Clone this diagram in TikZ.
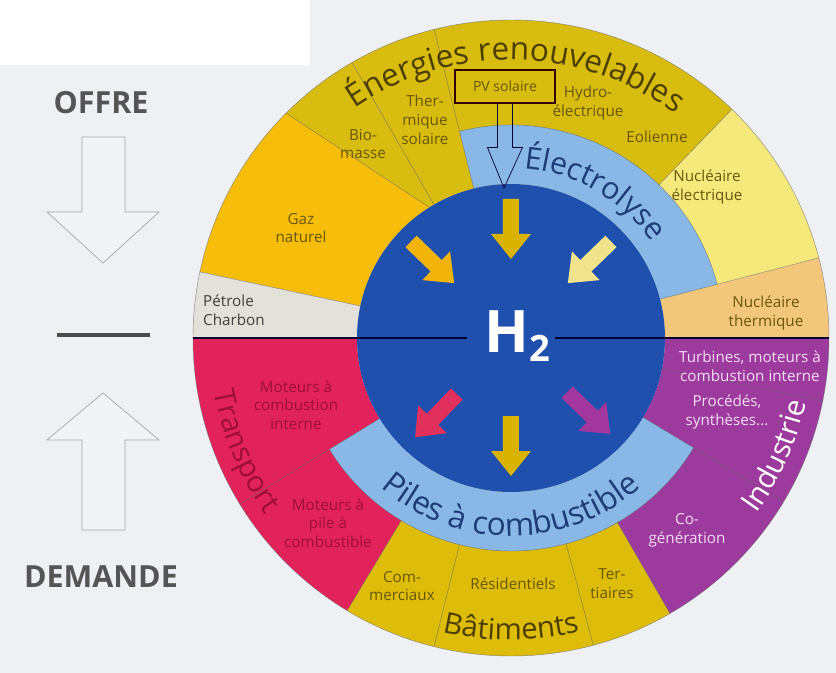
\documentclass[tikz,border=0pt]{standalone}
\usepackage{fontspec}
\setmainfont{Open Sans}
\usepackage{tikz}
\usetikzlibrary{decorations.text,calc,positioning}

\definecolor{bgc}{HTML}{EEF0F4}
\definecolor{ren}{HTML}{D9BC10}
\definecolor{gaz}{HTML}{F6BD0A}
\definecolor{pet}{HTML}{E4E0DA}
\definecolor{nel}{HTML}{F6E97C}
\definecolor{nth}{HTML}{F2C77C}
\definecolor{trp}{HTML}{E2225A}
\definecolor{bat}{HTML}{DEBC0A}
\definecolor{ind}{HTML}{9C3A9E}
\definecolor{lblue}{HTML}{8AB8E6}
\definecolor{hblue}{HTML}{2050AE}
\definecolor{agold}{HTML}{D9B300}
\definecolor{aorange}{HTML}{F3B40A}
\definecolor{ayellow}{HTML}{F1E28C}
\definecolor{ared}{HTML}{E2305C}
\definecolor{apurple}{HTML}{A2379E}
\definecolor{olive}{HTML}{6A560A}
\definecolor{darkolive}{HTML}{4E3E00}
\definecolor{navytext}{HTML}{1E3C78}
\definecolor{wine}{HTML}{9E0E3A}
\definecolor{lilac}{HTML}{F4DCF4}
\definecolor{greytext}{HTML}{555555}

% one piece of the ring: colour, from angle, to angle, inner r, outer r
\newcommand{\ringpart}[5]{%
  \fill[#1] (#2:#5) arc[start angle=#2, end angle=#3, radius=#5]
    -- (#3:#4) arc[start angle=#3, end angle=#2, radius=#4] -- cycle;}

\tikzset{
  seg/.style={draw=black!60, line width=0.4pt, opacity=0.7},
  lab/.style={font=\fontsize{13}{16}\selectfont, align=center, inner sep=0pt},
  renlab/.style={lab, text=olive},
  trplab/.style={lab, text=wine},
  indlab/.style={lab, text=lilac},
  divider/.style={draw=black!80!blue, line width=2.4pt},
  openarrow/.style={draw=black!35, line width=0.6pt, fill=white, fill opacity=0.25},
  sidelab/.style={font=\fontsize{26}{26}\selectfont\bfseries, text=greytext, inner sep=0pt},
  pvbox/.style={draw=black!80!red, line width=0.9pt, minimum width=3cm, minimum height=0.99cm,
    inner sep=0pt, font=\fontsize{12}{14}\selectfont, text=olive},
  pvarrow/.style={draw=black!80!blue, line width=0.6pt}
}

\begin{document}
\begin{tikzpicture}[x=0.03cm, y=0.03cm]
  \useasboundingbox[fill=bgc] (-511,-335) rectangle (325,338);
  \fill[white] (-511,273) rectangle (-201,338);

  % outer ring
  \ringpart{nth}{0}{14.6}{154}{318}
  \ringpart{nel}{14.6}{46}{154}{318}
  \ringpart{ren}{46}{135}{154}{318}
  \fill[gaz] (135:318) arc[start angle=135, end angle=168, radius=318]
    -- (168:154) arc[start angle=168, end angle=122, radius=154] -- cycle;
  \ringpart{pet}{168}{180}{154}{318}
  \ringpart{trp}{180}{239}{154}{318}
  \ringpart{bat}{239}{300}{154}{318}
  \ringpart{ind}{300}{360}{154}{318}
  \ringpart{lblue}{14.6}{104}{154}{213}
  \ringpart{lblue}{211.5}{329}{154}{213}

  % borders
  \foreach \a/\ri in {14.6/154, 46/213, 104/154, 120/154, 168/154, 211.5/154,
                      239/213, 256/213, 285/213, 300/213, 329/154, 348.6/154}
    \draw[seg] (\a:\ri) -- (\a:318);
  \draw[seg] (122:154) -- (135:318);
  \draw[seg] (14.6:213) arc[start angle=14.6, end angle=104, radius=213];
  \draw[seg] (211.5:213) arc[start angle=211.5, end angle=329, radius=213];
  \draw[seg] (0,0) circle (318);
  \fill[hblue] (0,0) circle (154);

  \draw[divider] (180:318) -- (-44,0);
  \draw[divider] (44,0) -- (0:318);

  % arrows in and out of H2
  \foreach \a/\c in {90/agold, 136/aorange, 44/ayellow}
    \fill[\c, shift={(\a:139)}, rotate=\a+180]
      (0,-8) -- (35,-8) -- (35,-20) -- (60,0) -- (35,20) -- (35,8) -- (0,8) -- cycle;
  \foreach \a/\c in {270/agold, 226/ared, 316/apurple}
    \fill[\c, shift={(\a:78)}, rotate=\a]
      (0,-8) -- (35,-8) -- (35,-20) -- (60,0) -- (35,20) -- (35,8) -- (0,8) -- cycle;

  \node[font=\fontsize{50}{50}\selectfont\bfseries, text=white, inner sep=0pt] (htwo) at (6,2)
    {H\raisebox{-0.3ex}{\fontsize{31}{31}\selectfont 2}};

  % texts on the arcs
  \path[decorate, decoration={text along path, text align=center, text color=darkolive,
    text={|\fontsize{27}{27}\selectfont|Énergies renouvelables}}]
    (139:278) arc[start angle=139, end angle=39, radius=278];
  \path[decorate, decoration={text along path, text align=center, text color=navytext,
    text={|\fontsize{26}{26}\selectfont|Électrolyse}}]
    (110:170) arc[start angle=110, end angle=10, radius=170];
  \path[decorate, decoration={text along path, text align=center, text color=navytext,
    text={|\fontsize{27}{27}\selectfont|Piles à combustible}}]
    (200:198) arc[start angle=200, end angle=340, radius=198];
  \path[decorate, decoration={text along path, text align=center, text color=wine,
    text={|\fontsize{25}{25}\selectfont|Transport}}]
    (160:302) arc[start angle=160, end angle=246, radius=302];
  \path[decorate, decoration={text along path, text align=center, text color=white,
    text={|\fontsize{25}{25}\selectfont|Industrie}}]
    (300:302) arc[start angle=300, end angle=372, radius=302];
  \path[decorate, decoration={text along path, text align=center, text color=darkolive,
    text={|\fontsize{25}{25}\selectfont|Bâtiments}}]
    (240:302) arc[start angle=240, end angle=300, radius=302];

  % labels of the pieces
  \node[renlab] (bio) at (-148,194) {Bio-\\masse};
  \node[renlab] (thsol) at (-86,218) {Ther-\\mique\\solaire};
  \node[pvbox] (pv) at (-6,251.5) {PV solaire};
  \node[renlab] (hydro) at (77,235) {Hydro-\\électrique};
  \node[renlab] (eol) at (146,201) {Eolienne};
  \node[renlab] (nucel) at (196,151) {Nucléaire\\électrique};
  \node[renlab] (gaznat) at (-210,110) {Gaz\\naturel};
  \node[lab, text=black!75, align=left] (petrole) at (-277,28) {Pétrole\\Charbon};
  \node[renlab] (nucth) at (255,25) {Nucléaire\\thermique};
  \node[indlab] (turb) at (239,-28) {Turbines, moteurs à\\combustion interne};
  \node[indlab] (proc) at (216,-74) {Procédés,\\synthèses...};
  \node[indlab] (cogen) at (176,-192) {Co-\\génération};
  \node[renlab] (tert) at (101,-246) {Ter-\\tiaires};
  \node[renlab] (resid) at (2,-246) {Résidentiels};
  \node[renlab] (comm) at (-109,-248) {Com-\\merciaux};
  \node[trplab] (mpile) at (-183,-185) {Moteurs à\\pile à\\combustible};
  \node[trplab] (mcomb) at (-215,-67) {Moteurs à\\combustion\\interne};

  % hollow arrow from PV solaire down to H2
  \coordinate (pvtip) at (-7,150);
  \draw[pvarrow] ($(pv.south)+(-7.5,0)$) -- ($(pv.south)+(-7.5,-44)$)
    -- ($(pv.south)+(-17.5,-44)$) -- (pvtip) -- ($(pv.south)+(17.5,-44)$)
    -- ($(pv.south)+(7.5,-44)$) -- ($(pv.south)+(7.5,0)$);

  % offer and demand
  \node[sidelab] (offre) at (-410,235) {OFFRE};
  \node[sidelab] (demande) at (-410,-239) {DEMANDE};
  \draw[openarrow] (-429,201) -- (-429,126) -- (-464,126) -- (-408,75)
    -- (-352,126) -- (-386,126) -- (-386,201) -- cycle;
  \draw[openarrow] (-429,-192) -- (-429,-102) -- (-464,-102) -- (-408,-55)
    -- (-352,-102) -- (-386,-102) -- (-386,-192) -- cycle;
  \draw[draw=black!70, line width=3pt] (-454,3) -- (-361,3);
\end{tikzpicture}
\end{document}
